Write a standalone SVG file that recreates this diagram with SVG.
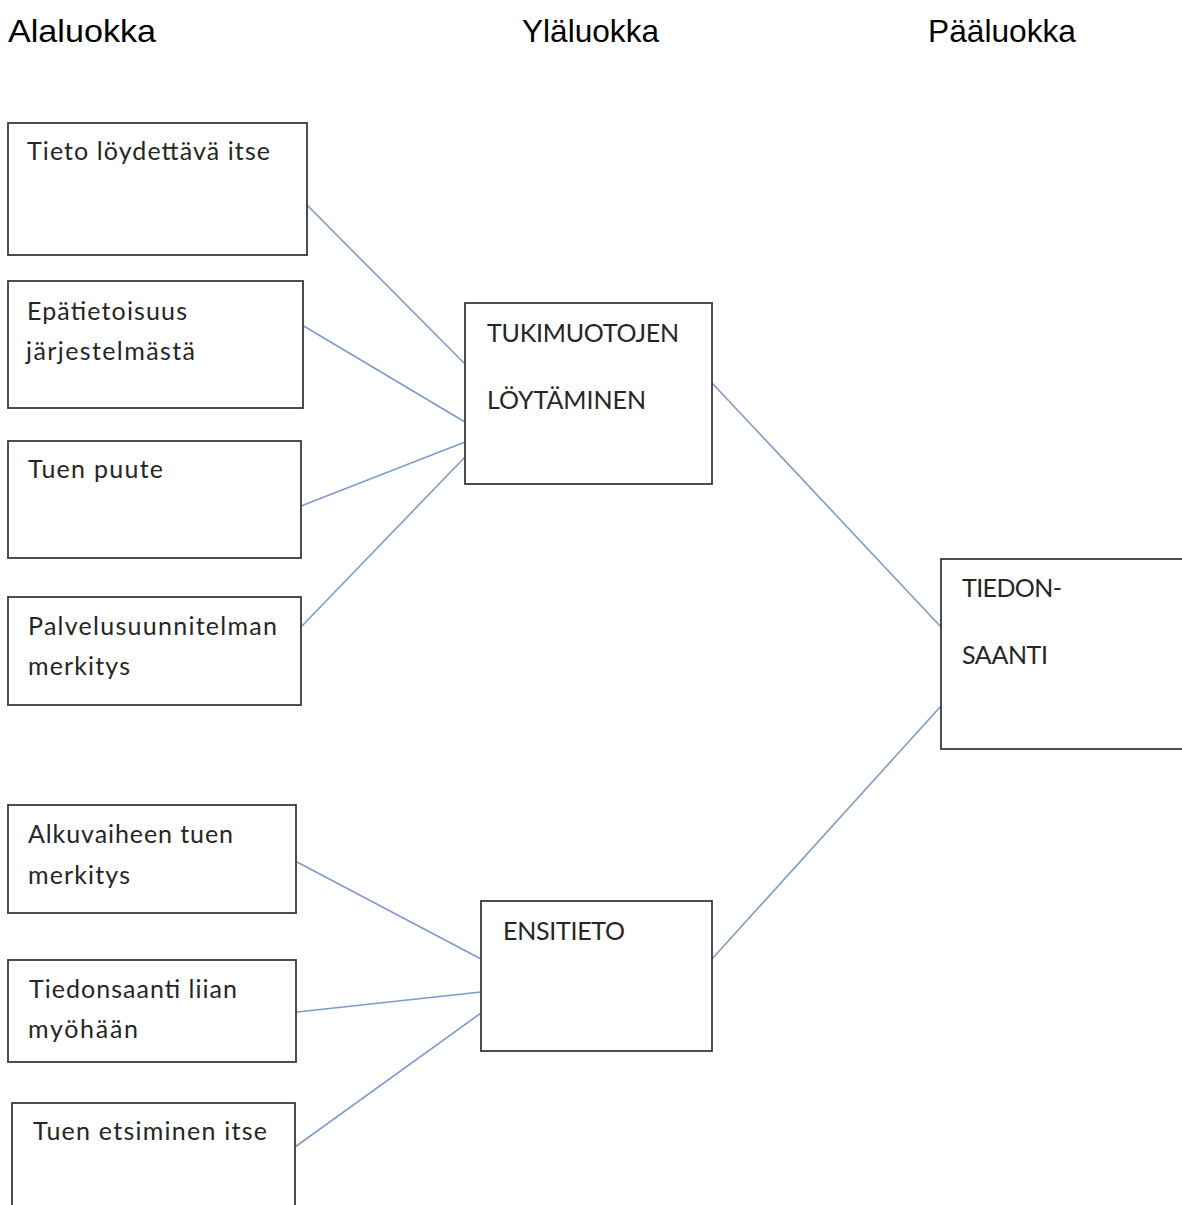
<svg xmlns="http://www.w3.org/2000/svg" width="1182" height="1205" viewBox="0 0 1182 1205">
<style>
.hdr{font-family:"Liberation Sans",Arial,sans-serif;font-size:32px;fill:#000}
.box{fill:#fff;stroke:#3a3a3a;stroke-width:1.8}
.lbl{font-family:Lato,"Open Sans",sans-serif;font-size:25px;fill:#262626}
.con{stroke:#7d9bcb;stroke-width:1.6;fill:none}
</style>
<rect width="1182" height="1205" fill="#fff"/>
<g id="headers">
<text class="hdr" x="8" y="42" textLength="148" lengthAdjust="spacingAndGlyphs">Alaluokka</text>
<text class="hdr" x="522" y="42" textLength="137" lengthAdjust="spacingAndGlyphs">Yläluokka</text>
<text class="hdr" x="928" y="42" textLength="148" lengthAdjust="spacingAndGlyphs">Pääluokka</text>
</g>
<g id="connectors">
<line class="con" x1="303" y1="201" x2="465" y2="364"/>
<line class="con" x1="302" y1="325" x2="465" y2="422"/>
<line class="con" x1="301" y1="506" x2="465" y2="442"/>
<line class="con" x1="301" y1="627" x2="465" y2="457"/>
<line class="con" x1="712" y1="383" x2="941" y2="627"/>
<line class="con" x1="712" y1="959" x2="941" y2="706"/>
<line class="con" x1="297" y1="862" x2="481" y2="959"/>
<line class="con" x1="297" y1="1012" x2="481" y2="992"/>
<line class="con" x1="295" y1="1147" x2="481" y2="1013"/>
</g>
<g id="n1"><rect class="box" x="8" y="123" width="299" height="132"/><text class="lbl" x="27" y="160" textLength="243" lengthAdjust="spacing">Tieto löydettävä itse</text></g>
<g id="n2"><rect class="box" x="8" y="281" width="295" height="127"/><text class="lbl" x="27" y="320" textLength="160" lengthAdjust="spacing">Epätietoisuus</text><text class="lbl" x="26" y="360" textLength="169" lengthAdjust="spacing">järjestelmästä</text></g>
<g id="n3"><rect class="box" x="8" y="441" width="293" height="117"/><text class="lbl" x="28" y="478" textLength="135" lengthAdjust="spacing">Tuen puute</text></g>
<g id="n4"><rect class="box" x="8" y="597" width="293" height="108"/><text class="lbl" x="28" y="635" textLength="249" lengthAdjust="spacing">Palvelusuunnitelman</text><text class="lbl" x="28" y="675" textLength="102" lengthAdjust="spacing">merkitys</text></g>
<g id="n5"><rect class="box" x="8" y="805" width="288" height="108"/><text class="lbl" x="28" y="843" textLength="205" lengthAdjust="spacing">Alkuvaiheen tuen</text><text class="lbl" x="28" y="884" textLength="102" lengthAdjust="spacing">merkitys</text></g>
<g id="n6"><rect class="box" x="8" y="960" width="288" height="102"/><text class="lbl" x="29" y="998" textLength="208" lengthAdjust="spacing">Tiedonsaanti liian</text><text class="lbl" x="28" y="1038" textLength="110" lengthAdjust="spacing">myöhään</text></g>
<g id="n7"><rect class="box" x="12" y="1103" width="283" height="120"/><text class="lbl" x="33" y="1140" textLength="234" lengthAdjust="spacing">Tuen etsiminen itse</text></g>
<g id="n8"><rect class="box" x="465" y="303" width="247" height="181"/><text class="lbl" x="487" y="342" textLength="192" lengthAdjust="spacing">TUKIMUOTOJEN</text><text class="lbl" x="487" y="409" textLength="159" lengthAdjust="spacing">LÖYTÄMINEN</text></g>
<g id="n9"><rect class="box" x="481" y="901" width="231" height="150"/><text class="lbl" x="503" y="940" textLength="122" lengthAdjust="spacing">ENSITIETO</text></g>
<g id="n10"><rect class="box" x="941" y="559" width="260" height="190"/><text class="lbl" x="962" y="597" textLength="100" lengthAdjust="spacing">TIEDON-</text><text class="lbl" x="962" y="664" textLength="86" lengthAdjust="spacing">SAANTI</text></g>
</svg>
